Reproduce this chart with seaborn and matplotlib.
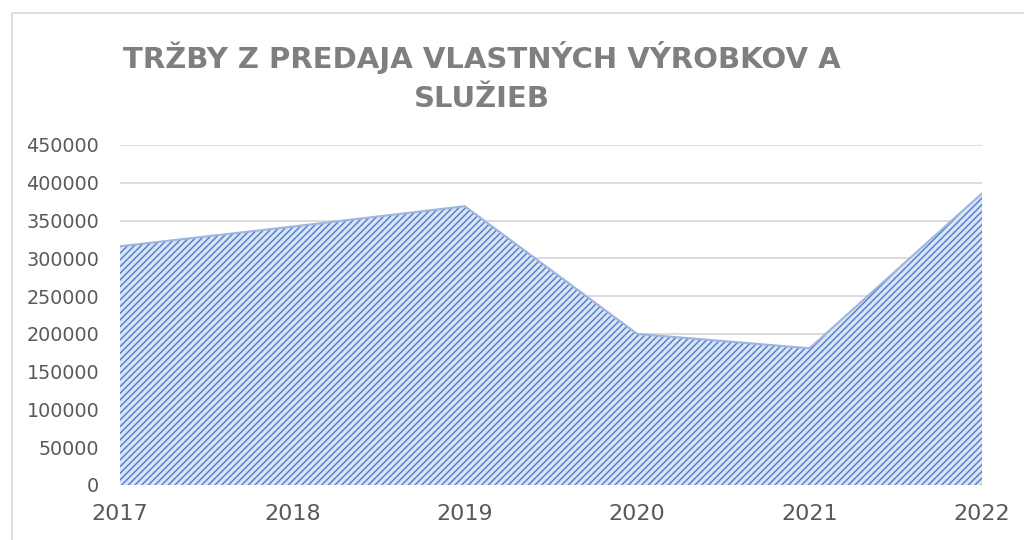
import numpy as np
import pandas as pd
import seaborn as sns
import matplotlib.pyplot as plt
from matplotlib.patches import Rectangle

years = [2017, 2018, 2019, 2020, 2021, 2022]
trzby = [316000, 342000, 369000, 200000, 181000, 386000]
y_ticks = [0, 50000, 100000, 150000, 200000, 250000, 300000, 350000, 400000, 450000]
title = "TRŽBY Z PREDAJA VLASTNÝCH VÝROBKOV A\nSLUŽIEB"

sns.set_theme(style="white")
plt.rcParams["font.family"] = ["DejaVu Sans"]
plt.rcParams["hatch.linewidth"] = 1.1
plt.rcParams["hatch.color"] = "#5583cf"

df = pd.DataFrame({"Rok": years, "Trzby": trzby})

fig = plt.figure(figsize=(10.24, 5.4), dpi=100)
ax = fig.add_axes([120 / 1024, 1 - 485 / 540, 862 / 1024, 340 / 540])

# chart area frame like in the spreadsheet
fig.patches.append(Rectangle((12 / 1024, -0.01), 1.0, 1 - 13 / 540 + 0.01,
                             transform=fig.transFigure, fill=False,
                             edgecolor="#d9d9d9", linewidth=1.2, zorder=0))

# gridlines
for t in y_ticks:
    ax.axhline(t, color="#d9d9d9", linewidth=1.3, zorder=0)

ax.fill_between(df["Rok"], 0, df["Trzby"], facecolor="#dce5f4",
                edgecolor="#5583cf", hatch="/////", linewidth=0, zorder=2)
sns.lineplot(data=df, x="Rok", y="Trzby", ax=ax, color="#9db5e0",
             linewidth=1.5, zorder=3)

ax.set_xlim(2017, 2022)
ax.set_ylim(0, 450000)
ax.set_yticks(y_ticks)
ax.set_yticklabels([str(t) for t in y_ticks])
ax.set_xticks(years)
ax.set_xticklabels([str(y) for y in years])
ax.set_xlabel("")
ax.set_ylabel("")
ax.tick_params(axis="y", labelsize=13.8, colors="#595959", length=0, pad=15)
ax.tick_params(axis="x", labelsize=16, colors="#595959", length=0, pad=14)
for s in ax.spines.values():
    s.set_visible(False)

fig.text(482 / 1024, 1 - 77 / 540, title, ha="center", va="center",
         fontsize=21, fontweight="bold", color="#7f7f7f",
         linespacing=1.5)

fig.savefig("out.png", dpi=100)
